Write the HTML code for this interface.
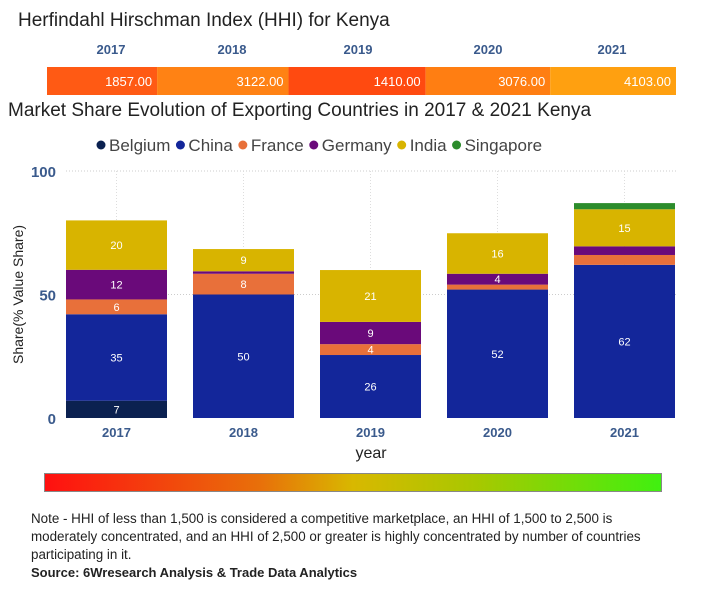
<!DOCTYPE html>
<html><head><meta charset="utf-8"><style>
body{margin:0;width:710px;height:600px;background:#fff;font-family:"Liberation Sans",sans-serif;position:relative;overflow:hidden}
.abs{position:absolute;white-space:nowrap}
</style></head><body>
<div class="abs" style="left:18px;top:10px;font-size:19px;color:#222">Herfindahl Hirschman Index (HHI) for Kenya</div>
<svg id="hhi" class="abs" style="left:0;top:0" width="710" height="100"></svg>
<div class="abs" style="left:8px;top:100px;font-size:19px;color:#222">Market Share Evolution of Exporting Countries in 2017 &amp; 2021 Kenya</div>
<svg id="chart" class="abs" style="left:0;top:130px" width="710" height="335"></svg>
<div class="abs" style="left:44px;top:473px;width:618px;height:19px;border:1px solid #888;box-sizing:border-box;background:linear-gradient(to right,#ff1010,#e8700a 35%,#d8b800 50%,#a8c800 70%,#40f010)"></div>
<div class="abs" style="left:31px;top:510px;font-size:13.4px;line-height:18px;color:#222;white-space:normal;width:640px">Note - HHI of less than 1,500 is considered a competitive marketplace, an HHI of 1,500 to 2,500 is moderately concentrated, and an HHI of 2,500 or greater is highly concentrated by number of countries participating in it.</div>
<div class="abs" style="left:31px;top:565px;font-size:13px;font-weight:bold;color:#222">Source: 6Wresearch Analysis &amp; Trade Data Analytics</div>
<script>
const hhiYears=["2017","2018","2019","2020","2021"];
const hhiValues=[1857,3122,1410,3076,4103];
const hhiColors=["#ff5a14","#ff8214","#ff4a10","#ff7e12","#ffa010"];
const categories=["2017","2018","2019","2020","2021"];
const seriesNames=["Belgium","China","France","Germany","India","Singapore"];
const seriesColors=["#0b2150","#13269a","#e8703a","#6a0a7a","#d8b400","#2c8c2c"];
const belgium=[7,0,0,0,0];
const china=[35,50,25.5,52,62];
const france=[6,8.4,4.4,2,4];
const germany=[12,1,9,4.4,3.5];
const india=[20,9,21,16.4,15];
const singapore=[0,0,0,0,2.5];
const series=[belgium,china,france,germany,india,singapore];
const yTicks=[0,50,100];
const ns="http://www.w3.org/2000/svg";
function mk(p,t,a){const e=document.createElementNS(ns,t);for(const k in a)e.setAttribute(k,a[k]);p.appendChild(e);return e;}
const hs=document.getElementById('hhi');
const bounds=[0,0.175,0.384,0.602,0.8,1];
const hx=v=>47+v*629;
hhiYears.forEach((y,i)=>{
 const x0=hx(bounds[i]),x1=hx(bounds[i+1]);
 const r=mk(hs,'rect',{x:x0,y:67,width:x1-x0,height:28,fill:hhiColors[i]});
 
 
 const t=mk(hs,'text',{x:x1-5,y:86,'text-anchor':'end','font-size':13,fill:'#fff'});t.textContent=hhiValues[i].toFixed(2);
 
 
 const c=[111,232,358,488,612][i];
 const yl=mk(hs,'text',{x:c,y:54,'text-anchor':'middle','font-size':13,'font-weight':'bold',fill:'#3a5a8c'});yl.textContent=y;
 
 
});
const ch=document.getElementById('chart');
const top0=130;
const yS=v=>(418-top0)-v*2.47;
const xS=i=>66+i*127;
const bw=101;
let lx=97;
seriesNames.forEach((n,i)=>{
 const g=mk(ch,'g',{});
 
 
 mk(g,'circle',{cx:lx+4,cy:15,r:4.5,fill:seriesColors[i]});
 const t=mk(g,'text',{x:lx+12,y:21,'font-size':17,fill:'#444'});t.textContent=n;
 lx+=12+t.getComputedTextLength()+6;
});
yTicks.forEach(v=>{
 if(v>0){const l=mk(ch,'line',{x1:66,x2:676,y1:yS(v),y2:yS(v),stroke:'#ccc','stroke-dasharray':'1 2'});
 
 }
 const t=mk(ch,'text',{x:56,y:yS(v)+6,'text-anchor':'end','font-size':15,'font-weight':'bold',fill:'#3a5a8c'});t.textContent=v;
 
 
});
categories.forEach((c,i)=>{
 const l=mk(ch,'line',{x1:xS(i)+bw/2,x2:xS(i)+bw/2,y1:yS(100),y2:yS(0),stroke:'#ddd','stroke-dasharray':'1 2'});
 
 
});
categories.forEach((c,i)=>{
 let base=0;
 series.forEach((s,k)=>{
  const v=s[i]; if(!v) return;
  const y1=yS(base+v),y0=yS(base);
  const r=mk(ch,'rect',{x:xS(i),y:y1,width:bw,height:y0-y1,fill:seriesColors[k]});
  
  
  if(v>=4 && !(i==4 && k!=1 && k!=4)){
   const t=mk(ch,'text',{x:xS(i)+bw/2,y:(y0+y1)/2+4,'text-anchor':'middle','font-size':11,fill:'#fff'});t.textContent=Math.round(v);
   
   
  }
  base+=v;
 });
 const t=mk(ch,'text',{x:xS(i)+bw/2,y:yS(0)+19,'text-anchor':'middle','font-size':13,'font-weight':'bold',fill:'#3a5a8c'});t.textContent=c;
 
 
});
const xt=mk(ch,'text',{x:371,y:328,'text-anchor':'middle','font-size':16,fill:'#222'});xt.textContent='year';


const yt=mk(ch,'text',{x:0,y:0,'text-anchor':'middle','font-size':14,fill:'#222',transform:'translate(23,'+yS(50)+') rotate(-90)'});yt.textContent='Share(% Value Share)';


</script>
</body></html>
